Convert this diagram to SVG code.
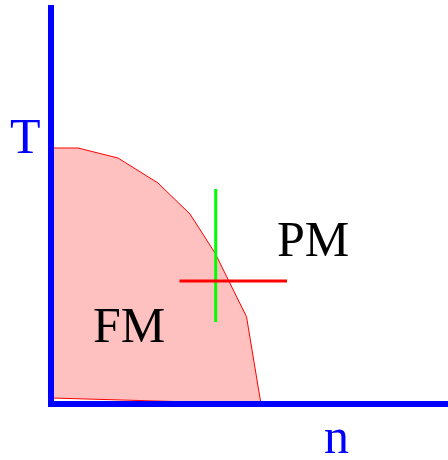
<svg xmlns="http://www.w3.org/2000/svg" width="448" height="460" viewBox="0 0 448 460">
<style>
text{font-family:'Liberation Serif','Times New Roman',serif;font-size:50px}
.ax{stroke:#0000ff;stroke-width:6;fill:none}
</style>
<rect width="448" height="460" fill="#ffffff"/>
<g id="fm-region">
<polygon points="51,148 78,148 118,158 158,183 190,214 215,253 246.5,316.7 261,404 52,398" fill="#ffc0c0" stroke="#ff0000" stroke-width="1"/>
</g>
<g id="connectors">
<line class="ax" x1="51" y1="5" x2="51" y2="407"/>
<line class="ax" x1="48" y1="404" x2="448" y2="404"/>
<line x1="215.7" y1="189" x2="215.7" y2="322" stroke="#00ff00" stroke-width="3"/>
<line x1="179.5" y1="281" x2="287" y2="281" stroke="#ff0000" stroke-width="3"/>
</g>
<g id="label-T"><text x="10" y="153" fill="#0000ff">T</text></g>
<g id="label-n"><text x="324" y="453" fill="#0000ff">n</text></g>
<g id="label-PM"><text x="277" y="256" fill="#000000">PM</text></g>
<g id="label-FM"><text x="93" y="342" fill="#000000">FM</text></g>
</svg>
